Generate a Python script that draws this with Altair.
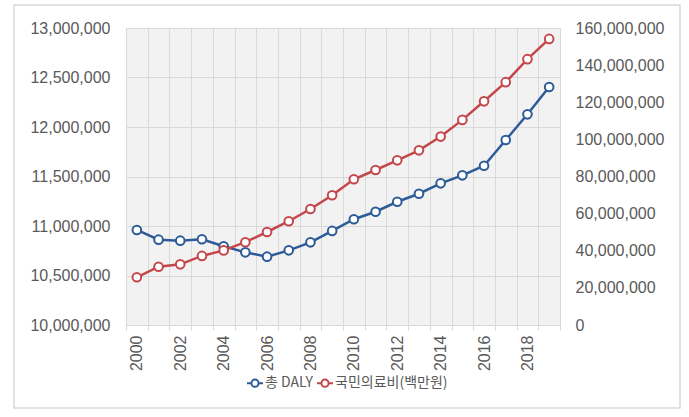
import altair as alt
import pandas as pd

years = list(range(2000, 2020))
daly = [10960000, 10862000, 10852000, 10866000, 10795000, 10734000, 10690000,
        10754000, 10835000, 10950000, 11068000, 11144000, 11245000, 11326000,
        11431000, 11512000, 11609000, 11869000, 12128000, 12404000]
cost = [25700000, 31400000, 32700000, 37200000, 40200000, 44600000, 50100000,
        55900000, 62500000, 69900000, 78500000, 83500000, 88700000, 94100000,
        101500000, 110500000, 120500000, 130800000, 143200000, 154100000]
series_names = ["총 DALY", "국민의료비(백만원)"]
series_colors = ["#2D5B98", "#C4474B"]
left_ticks = [10000000, 10500000, 11000000, 11500000, 12000000, 12500000, 13000000]
right_ticks = [0, 20000000, 40000000, 60000000, 80000000, 100000000,
               120000000, 140000000, 160000000]

rows = []
for y, a, b in zip(years, daly, cost):
    rows.append({"year": y, "series": series_names[0], "value": a})
    rows.append({"year": y, "series": series_names[1], "value": b})
df = pd.DataFrame(rows)

AXIS_FONT = "Liberation Sans"
LABEL_COLOR = "#595959"
GRID = "#D9D9D9"

legend_path = ("M-1,0L-0.45,0M0.45,0L1,0"
               "M-0.45,0A0.45,0.45,0,1,0,0.45,0A0.45,0.45,0,1,0,-0.45,0Z")

color = alt.Color(
    "series:N",
    scale=alt.Scale(domain=series_names, range=series_colors),
    sort=series_names,
    legend=alt.Legend(
        title=None, orient="none", direction="horizontal",
        legendX=120, legendY=346,
        symbolType=legend_path, symbolSize=256, symbolStrokeWidth=2,
        symbolFillColor="white", labelFont="Noto Sans CJK KR",
        labelFontSize=14, labelColor=LABEL_COLOR, labelOffset=1,
        columnPadding=0, symbolOffset=0,
    ),
)

x = alt.X(
    "year:O",
    scale=alt.Scale(paddingInner=0, paddingOuter=0),
    axis=alt.Axis(
        title=None, labelAngle=-90, tickBand="extent",
        labelExpr="datum.value % 2 == 0 ? datum.label : ''",
        labelFont=AXIS_FONT, labelFontSize=16, labelColor=LABEL_COLOR,
        labelPadding=5, tickSize=5, tickColor=GRID, domainColor=GRID,
        gridColor=GRID, grid=True,
    ),
)

point_def = alt.OverlayMarkDef(filled=False, fill="white", size=75, strokeWidth=2, opacity=1)

daly_chart = alt.Chart(df).transform_filter(
    alt.datum.series == series_names[0]
).mark_line(strokeWidth=2.5, point=point_def).encode(
    x=x,
    y=alt.Y(
        "value:Q",
        scale=alt.Scale(domain=[10000000, 13000000], nice=False, zero=False),
        axis=alt.Axis(
            title=None, orient="left", values=left_ticks, format=",.0f",
            labelFont=AXIS_FONT, labelFontSize=16, labelColor=LABEL_COLOR,
            labelPadding=16, ticks=False, domain=False,
            grid=True, gridColor=GRID,
        ),
    ),
    color=color,
)

cost_chart = alt.Chart(df).transform_filter(
    alt.datum.series == series_names[1]
).mark_line(strokeWidth=2.5, point=point_def).encode(
    x=x,
    y=alt.Y(
        "value:Q",
        scale=alt.Scale(domain=[0, 160000000], nice=False),
        axis=alt.Axis(
            title=None, orient="right", values=right_ticks, format=",.0f",
            labelFont=AXIS_FONT, labelFontSize=16, labelColor=LABEL_COLOR,
            labelPadding=15, ticks=False, domain=False, grid=False,
        ),
    ),
    color=color,
)

frame = alt.Chart(alt.Data(values=[{}])).mark_rect(
    fill=None, stroke=GRID, strokeWidth=1.5
).encode(
    x=alt.value(-112), x2=alt.value(554),
    y=alt.value(-23), y2=alt.value(380),
)

chart = alt.layer(daly_chart, cost_chart, frame).resolve_scale(
    y="independent"
).properties(
    width=434, height=297,
    autosize=alt.AutoSizeParams(type="none"),
    padding={"left": 126, "top": 28, "right": 129, "bottom": 92},
    background="white",
).configure_view(
    fill="#F2F2F2", stroke=GRID,
)

chart.save("out.html", embed_options={"renderer": "svg", "actions": False})
